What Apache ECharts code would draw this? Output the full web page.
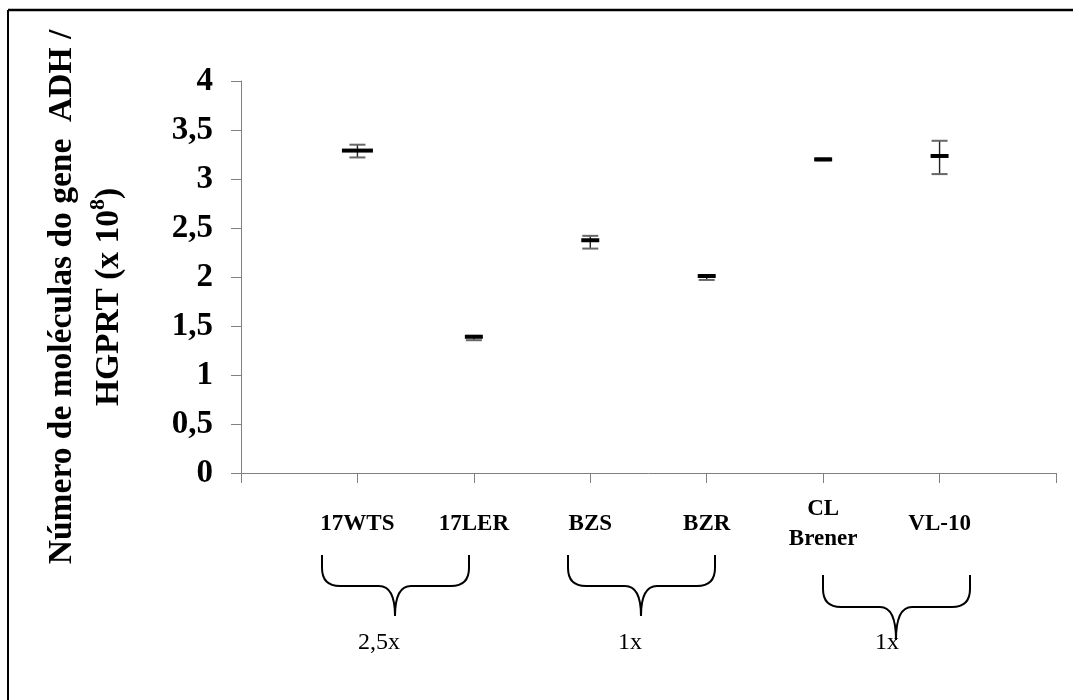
<!DOCTYPE html>
<html>
<head>
<meta charset="utf-8">
<script src="https://cdn.jsdelivr.net/npm/echarts@6/dist/echarts.min.js"></script>
<style>
html,body{margin:0;padding:0;background:#fff;}
#chart{width:1073px;height:700px;}
</style>
</head>
<body>
<div id="chart"></div>
<script>
// categories (blank slots at both ends, as in the original axis)
const categories = ['', '17WTS', '17LER', 'BZS', 'BZR', 'CL\nBrener', 'VL-10', ''];
const strains = ['17WTS', '17LER', 'BZS', 'BZR', 'CL\nBrener', 'VL-10'];
const means = [3.29, 1.39, 2.375, 2.01, 3.20, 3.235];
const lows  = [3.22, 1.355, 2.29, 1.97, 3.19, 3.05];
const highs = [3.35, 1.40, 2.42, 2.02, 3.21, 3.39];
const yTicks = [0, 0.5, 1, 1.5, 2, 2.5, 3, 3.5, 4];
const groupLabels = ['2,5x', '1x', '1x'];

const serif = "'Liberation Serif', 'Times New Roman', 'DejaVu Serif', serif";
const chart = echarts.init(document.getElementById('chart'));

const pointData = strains.map((s, i) => [s, means[i]]);
const errData = strains.map((s, i) => [s, lows[i], highs[i]]);

// group braces (annotations below the category labels), built from simple pieces
function braceParts(L, R, T, M, B, C) {
  const r = 18, t = 16;
  const st = { stroke: '#000', lineWidth: 2, fill: null };
  const mk = (type, shape) => ({ type: type, shape: shape, style: st, silent: true });
  return [
    mk('line', { x1: L, y1: T, x2: L, y2: M - r }),
    mk('bezierCurve', { x1: L, y1: M - r, cpx1: L, cpy1: M, x2: L + r, y2: M }),
    mk('line', { x1: L + r, y1: M, x2: C - t, y2: M }),
    mk('bezierCurve', { x1: C - t, y1: M, cpx1: C, cpy1: M, x2: C, y2: B }),
    mk('bezierCurve', { x1: C, y1: B, cpx1: C, cpy1: M, x2: C + t, y2: M }),
    mk('line', { x1: C + t, y1: M, x2: R - r, y2: M }),
    mk('bezierCurve', { x1: R - r, y1: M, cpx1: R, cpy1: M, x2: R, y2: M - r }),
    mk('line', { x1: R, y1: M - r, x2: R, y2: T })
  ];
}
const braces = [
  { L: 322, R: 469, T: 555, M: 586, B: 616, C: 395, tx: 379 },
  { L: 568, R: 715, T: 555, M: 586, B: 616, C: 641, tx: 630 },
  { L: 823, R: 970, T: 575, M: 607, B: 640, C: 896, tx: 887 }
];
const graphics = [
  { type: 'line', shape: { x1: 8, y1: 10, x2: 1080, y2: 10 }, style: { stroke: '#000', lineWidth: 2.5 }, silent: true },
  { type: 'line', shape: { x1: 8, y1: 10, x2: 8, y2: 710 }, style: { stroke: '#000', lineWidth: 2 }, silent: true }
];
braces.forEach((b, i) => {
  braceParts(b.L, b.R, b.T, b.M, b.B, b.C).forEach(p => graphics.push(p));
  graphics.push({
    type: 'text', silent: true, z: 1,
    x: b.tx, y: 643,
    style: { text: groupLabels[i], font: '24px ' + serif, fill: '#000', align: 'center', verticalAlign: 'middle' }
  });
});

chart.setOption({
  animation: false,
  backgroundColor: '#fff',
  grid: { left: 241, right: 17, top: 81, bottom: 227, containLabel: false, outerBoundsMode: 'none' },
  xAxis: {
    type: 'category',
    data: categories,
    boundaryGap: false,
    axisLine: { lineStyle: { color: '#808080', width: 1 } },
    axisTick: { show: true, interval: 0, length: 10, lineStyle: { color: '#808080' } },
    axisLabel: {
      interval: 0,
      margin: 51,
      verticalAlign: 'middle',
      fontFamily: serif,
      fontWeight: 'bold',
      fontSize: 23,
      lineHeight: 30,
      color: '#000'
    },
    splitLine: { show: false }
  },
  yAxis: {
    type: 'value',
    min: yTicks[0],
    max: yTicks[yTicks.length - 1],
    interval: 0.5,
    axisLine: { show: true, lineStyle: { color: '#808080', width: 1 } },
    axisTick: { show: true, length: 10, lineStyle: { color: '#808080' } },
    axisLabel: {
      margin: 28,
      fontFamily: serif,
      fontWeight: 'bold',
      fontSize: 33,
      color: '#000',
      formatter: v => String(v).replace('.', ',')
    },
    splitLine: { show: false },
    name: 'Número de moléculas do gene  ADH /\nHGPRT (x 10{sup|8})',
    nameLocation: 'middle',
    nameRotate: 90,
    nameGap: 108,
    nameTextStyle: {
      fontFamily: serif,
      fontWeight: 'bold',
      fontSize: 33.5,
      lineHeight: 47,
      color: '#000',
      padding: [0, 40, 0, 0],
      rich: {
        sup: { fontFamily: serif, fontWeight: 'bold', fontSize: 22, padding: [0, 0, 22, 0], color: '#000' }
      }
    }
  },
  series: [
    {
      type: 'custom',
      data: errData,
      z: 2,
      renderItem: function (params, api) {
        const x = api.coord([api.value(0), 0])[0];
        const lo = api.coord([api.value(0), api.value(1)])[1];
        const hi = api.coord([api.value(0), api.value(2)])[1];
        const hw = 8;
        return {
          type: 'group',
          children: [
            { type: 'line', shape: { x1: x, y1: lo, x2: x, y2: hi }, style: { stroke: '#222', lineWidth: 1.4 } },
            { type: 'line', shape: { x1: x - hw, y1: lo, x2: x + hw, y2: lo }, style: { stroke: '#666', lineWidth: 2 } },
            { type: 'line', shape: { x1: x - hw, y1: hi, x2: x + hw, y2: hi }, style: { stroke: '#666', lineWidth: 2 } }
          ]
        };
      },
      encode: { x: 0, y: [1, 2] }
    },
    {
      type: 'scatter',
      data: pointData,
      z: 3,
      symbol: 'rect',
      symbolSize: function (val, params) { return params.dataIndex === 0 ? [31, 4] : [18, 4]; },
      itemStyle: { color: '#000', opacity: 1 }
    }
  ],
  graphic: graphics
});
</script>
</body>
</html>
